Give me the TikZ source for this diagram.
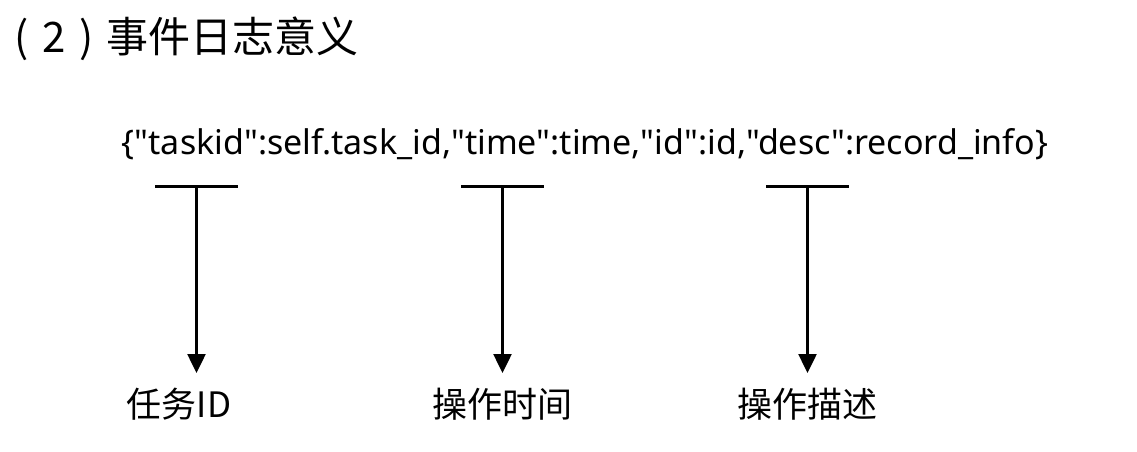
\documentclass[tikz,border=0pt]{standalone}
\usepackage{fontspec}
\setmainfont{Noto Sans CJK SC}
\newfontfamily\jsonfont{Noto Sans}
\usetikzlibrary{arrows.meta}
\begin{document}
\begin{tikzpicture}[x=1pt, y=1pt]
    \useasboundingbox (0,0) rectangle (1137,-451);

    \node [anchor=base west, inner sep=0pt, font=\fontsize{42}{50}\selectfont] (title) at (14,-52) {(\hspace{0.33em}2\hspace{0.33em})\hspace{0.3em}事件日志意义};
    \node [inner sep=0pt, font=\jsonfont\fontsize{34}{41}\selectfont] (json) at (585,-144) {\{"taskid":self.task\_id,"time":time,"id":id,"desc":record\_info\}};

    % bars under the record
    \draw [line width=3pt] (155,-186) -- (238,-186) coordinate [midway] (t1);
    \draw [line width=3pt] (461,-186) -- (544,-186) coordinate [midway] (t2);
    \draw [line width=3pt] (766,-186) -- (849,-186) coordinate [midway] (t3);

    \node [font=\fontsize{35}{42}\selectfont, inner sep=0pt] (task) at (179,-404) {任务ID};
    \node [font=\fontsize{35}{42}\selectfont, inner sep=0pt] (time) at (502,-404) {操作时间};
    \node [font=\fontsize{35}{42}\selectfont, inner sep=0pt] (desc) at (807,-404) {操作描述};

    \draw [line width=2.5pt, -{Triangle[width=18pt, length=19pt]}] (t1) -- (t1 |- 0,-373);
    \draw [line width=2.5pt, -{Triangle[width=18pt, length=19pt]}] (t2) -- (t2 |- 0,-373);
    \draw [line width=2.5pt, -{Triangle[width=18pt, length=19pt]}] (t3) -- (t3 |- 0,-373);
  \end{tikzpicture}
\end{document}
